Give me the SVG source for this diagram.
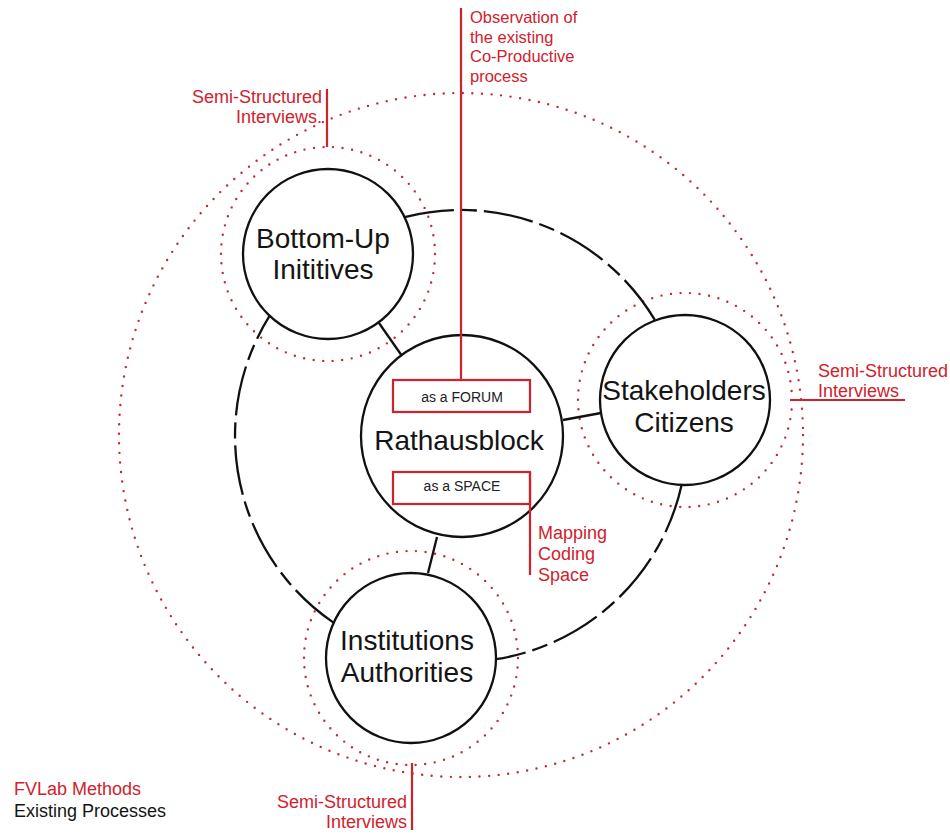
<svg xmlns="http://www.w3.org/2000/svg" width="950" height="837" viewBox="0 0 950 837">
<defs>
<style>
.bg{fill:#ffffff}
.node{fill:#ffffff;stroke:#111111;stroke-width:2.3}
.dot{fill:none;stroke:#c22a33;stroke-width:2.4;stroke-linecap:round;stroke-dasharray:0 9.6}
.dash{fill:none;stroke:#111111;stroke-width:2.3;stroke-dasharray:50 7 16 7}
.solid{fill:none;stroke:#111111;stroke-width:2.3}
.rl{fill:none;stroke:#d0222c;stroke-width:2.2}
.rbox{fill:none;stroke:#d0222c;stroke-width:2.2}
.nt{font-family:"Liberation Sans",Arial,sans-serif;font-size:28px;fill:#141414;text-anchor:middle}
.bt{font-family:"Liberation Sans",Arial,sans-serif;font-size:14px;fill:#222222;text-anchor:middle}
.rt{font-family:"Liberation Sans",Arial,sans-serif;font-size:18px;fill:#d0222c}
.rs{font-family:"Liberation Sans",Arial,sans-serif;font-size:16.5px;fill:#d0222c}
.lg{font-family:"Liberation Sans",Arial,sans-serif;font-size:18px}
</style>
</defs>
<rect class="bg" x="0" y="0" width="950" height="837"/>

<g id="method-rings">
<circle class="dot" cx="461" cy="435" r="342"/>
<circle class="dot" cx="328" cy="254" r="107"/>
<circle class="dot" cx="685" cy="400" r="107"/>
<circle class="dot" cx="411" cy="658" r="107"/>
</g>

<g id="connectors">
<path class="dash" d="M404.5,217.1 A226,226 0 0 1 655.2,320.5"/>
<path class="dash" d="M681.6,484.9 A226,226 0 0 1 496.1,659.2"/>
<path class="dash" d="M333.5,622.6 A226,226 0 0 1 269.7,315.7"/>
<line class="solid" x1="379" y1="323" x2="402" y2="356"/>
<line class="solid" x1="563" y1="420" x2="601" y2="413"/>
<line class="solid" x1="437" y1="537" x2="428" y2="573"/>
</g>

<g id="node-bottom-up">
<circle class="node" cx="328" cy="254" r="85"/>
<text class="nt" x="323" y="248">Bottom-Up</text>
<text class="nt" x="323" y="279">Inititives</text>
</g>

<g id="node-stakeholders">
<circle class="node" cx="685" cy="400" r="85"/>
<text class="nt" x="684" y="400">Stakeholders</text>
<text class="nt" x="684" y="432">Citizens</text>
</g>

<g id="node-institutions">
<circle class="node" cx="411" cy="658" r="85"/>
<text class="nt" x="407" y="650">Institutions</text>
<text class="nt" x="407" y="682">Authorities</text>
</g>

<g id="node-rathausblock">
<circle class="node" cx="462" cy="436" r="101"/>
<text class="nt" x="459" y="450">Rathausblock</text>
</g>

<g id="forum-box">
<rect class="rbox" x="393" y="380" width="137" height="32"/>
<text class="bt" x="462" y="402">as a FORUM</text>
</g>

<g id="space-box">
<rect class="rbox" x="393" y="472" width="137" height="32"/>
<text class="bt" x="462" y="491">as a SPACE</text>
</g>

<g id="label-observation">
<line class="rl" x1="461" y1="8" x2="461" y2="380"/>
<text class="rs" x="470" y="23">Observation of</text>
<text class="rs" x="470" y="42.5">the existing</text>
<text class="rs" x="470" y="62">Co-Productive</text>
<text class="rs" x="470" y="81.5">process</text>
</g>

<g id="label-mapping">
<line class="rl" x1="530" y1="472" x2="530" y2="575"/>
<text class="rt" x="538" y="539">Mapping</text>
<text class="rt" x="538" y="560">Coding</text>
<text class="rt" x="538" y="581">Space</text>
</g>

<g id="label-interviews-top">
<line class="rl" x1="327" y1="89" x2="327" y2="147"/>
<text class="rt" x="322" y="103" text-anchor="end">Semi-Structured</text>
<text class="rt" x="322" y="123" text-anchor="end">Interviews.</text>
</g>

<g id="label-interviews-right">
<line class="rl" x1="790" y1="400" x2="905" y2="400"/>
<text class="rt" x="818" y="377">Semi-Structured</text>
<text class="rt" x="818" y="397">Interviews</text>
</g>

<g id="label-interviews-bottom">
<line class="rl" x1="412" y1="763" x2="412" y2="830"/>
<text class="rt" x="407" y="808" text-anchor="end">Semi-Structured</text>
<text class="rt" x="407" y="828" text-anchor="end">Interviews</text>
</g>

<g id="legend">
<text class="lg" x="14" y="795" fill="#d0222c">FVLab Methods</text>
<text class="lg" x="14" y="817" fill="#141414">Existing Processes</text>
</g>
</svg>
